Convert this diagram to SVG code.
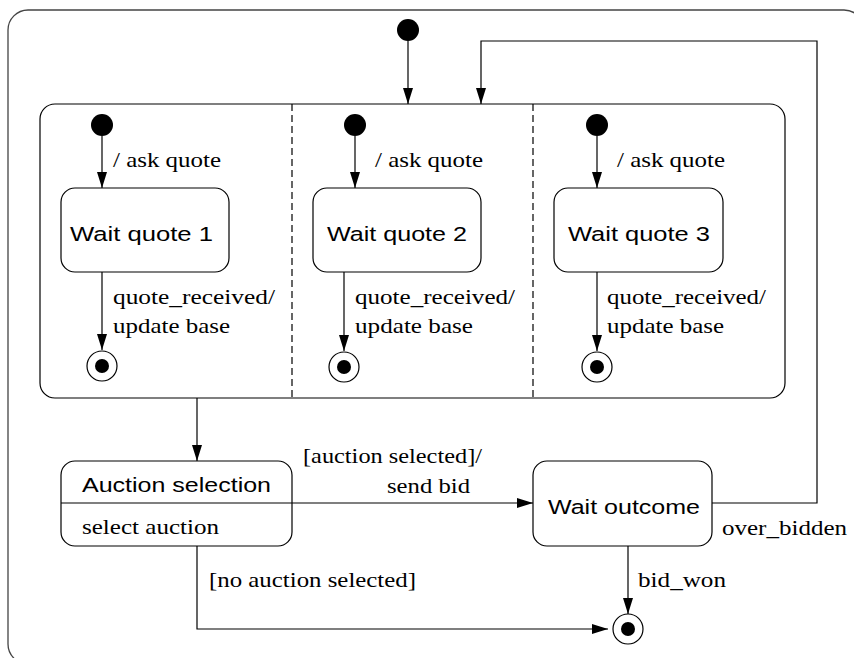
<svg xmlns="http://www.w3.org/2000/svg" width="854" height="658" viewBox="0 0 854 658">
  <style>
    .box { fill: #fff; stroke: #000; stroke-width: 1.2; }
    .frame { fill: none; stroke: #444; stroke-width: 1.3; }
    .comp { fill: none; stroke: #000; stroke-width: 1.2; }
    .dash { stroke: #000; stroke-width: 1.2; stroke-dasharray: 7 4; }
    .edge { fill: none; stroke: #000; stroke-width: 1.2; marker-end: url(#arrow); }
    .line { fill: none; stroke: #000; stroke-width: 1.2; }
    .init { fill: #000; }
    .fin { fill: #fff; stroke: #000; stroke-width: 1.2; }
    .sans { font-family: "Liberation Sans", Arial, sans-serif; font-size: 20.5px; fill: #000; }
    .tr { font-family: "Liberation Serif", "Times New Roman", "DejaVu Serif", serif; font-size: 21px; fill: #000; }
  </style>
  <defs>
    <marker id="arrow" markerUnits="userSpaceOnUse" markerWidth="17" markerHeight="11" refX="16" refY="5" orient="auto">
      <path d="M0,0 L16,5 L0,10 z" fill="#000"/>
    </marker>
  </defs>

  <rect class="frame" x="8" y="10" width="856" height="654" rx="20"/>

  <g id="composite">
    <rect class="comp" x="40" y="104" width="745" height="294" rx="15"/>
    <line class="dash" x1="292" y1="104" x2="292" y2="398"/>
    <line class="dash" x1="533" y1="104" x2="533" y2="398"/>
  </g>

  <g id="connectors">
    <path class="edge" d="M408,41 V104"/>
    <path class="edge" d="M712,503 H817 V41 H481 V104"/>
    <path class="edge" d="M102,136 V188"/>
    <path class="edge" d="M102,272 V350"/>
    <path class="edge" d="M355,136 V188"/>
    <path class="edge" d="M344,272 V351"/>
    <path class="edge" d="M597,136 V188"/>
    <path class="edge" d="M597,272 V351"/>
    <path class="edge" d="M197,398 V461"/>
    <path class="edge" d="M292,503 H533"/>
    <path class="edge" d="M197,546 V629 H608"/>
    <path class="edge" d="M628,546 V614"/>
  </g>

  <g id="init-top"><circle class="init" cx="408" cy="30" r="11"/></g>
  <g id="init-1"><circle class="init" cx="102" cy="125" r="11"/></g>
  <g id="init-2"><circle class="init" cx="355" cy="125" r="11"/></g>
  <g id="init-3"><circle class="init" cx="597" cy="125" r="11"/></g>

  <g id="wait-quote-1">
    <rect class="box" x="61" y="188" width="168" height="84" rx="14"/>
    <text class="sans" x="70" y="241" textLength="143" lengthAdjust="spacingAndGlyphs">Wait quote 1</text>
  </g>
  <g id="wait-quote-2">
    <rect class="box" x="313" y="188" width="168" height="84" rx="14"/>
    <text class="sans" x="327" y="241" textLength="140" lengthAdjust="spacingAndGlyphs">Wait quote 2</text>
  </g>
  <g id="wait-quote-3">
    <rect class="box" x="554" y="188" width="169" height="84" rx="14"/>
    <text class="sans" x="568" y="241" textLength="142" lengthAdjust="spacingAndGlyphs">Wait quote 3</text>
  </g>

  <g id="final-1">
    <circle class="fin" cx="102" cy="366" r="15"/>
    <circle class="init" cx="102" cy="366" r="7"/>
  </g>
  <g id="final-2">
    <circle class="fin" cx="344" cy="367" r="15"/>
    <circle class="init" cx="344" cy="367" r="7"/>
  </g>
  <g id="final-3">
    <circle class="fin" cx="597" cy="367" r="15"/>
    <circle class="init" cx="597" cy="367" r="7"/>
  </g>

  <g id="auction-selection">
    <rect class="box" x="61" y="461" width="231" height="85" rx="14"/>
    <line class="line" x1="61" y1="503" x2="292" y2="503"/>
    <text class="sans" x="82" y="492" textLength="189" lengthAdjust="spacingAndGlyphs">Auction selection</text>
    <text class="tr" font-family="Liberation Serif, serif" x="82" y="534" textLength="137" lengthAdjust="spacingAndGlyphs">select auction</text>
  </g>

  <g id="wait-outcome">
    <rect class="box" x="533" y="461" width="179" height="85" rx="14"/>
    <text class="sans" x="548" y="514" textLength="152" lengthAdjust="spacingAndGlyphs">Wait outcome</text>
  </g>

  <g id="final-main">
    <circle class="fin" cx="628" cy="629" r="15"/>
    <circle class="init" cx="628" cy="629" r="7"/>
  </g>

  <g id="labels" class="tr">
    <text class="tr" x="113" y="167" textLength="108" lengthAdjust="spacingAndGlyphs">/ ask quote</text>
    <text class="tr" x="375" y="167" textLength="108" lengthAdjust="spacingAndGlyphs">/ ask quote</text>
    <text class="tr" x="617" y="167" textLength="108" lengthAdjust="spacingAndGlyphs">/ ask quote</text>
    <text class="tr" x="113" y="304" textLength="162" lengthAdjust="spacingAndGlyphs">quote_received/</text>
    <text class="tr" x="113" y="333" textLength="117" lengthAdjust="spacingAndGlyphs">update base</text>
    <text class="tr" x="355" y="304" textLength="160" lengthAdjust="spacingAndGlyphs">quote_received/</text>
    <text class="tr" x="355" y="333" textLength="118" lengthAdjust="spacingAndGlyphs">update base</text>
    <text class="tr" x="607" y="304" textLength="159" lengthAdjust="spacingAndGlyphs">quote_received/</text>
    <text class="tr" x="607" y="333" textLength="117" lengthAdjust="spacingAndGlyphs">update base</text>
    <text class="tr" x="303" y="463" textLength="179" lengthAdjust="spacingAndGlyphs">[auction selected]/</text>
    <text class="tr" x="387" y="493" textLength="83" lengthAdjust="spacingAndGlyphs">send bid</text>
    <text class="tr" x="209" y="587" textLength="207" lengthAdjust="spacingAndGlyphs">[no auction selected]</text>
    <text class="tr" x="722" y="535" textLength="125" lengthAdjust="spacingAndGlyphs">over_bidden</text>
    <text class="tr" x="638" y="587" textLength="88" lengthAdjust="spacingAndGlyphs">bid_won</text>
  </g>
</svg>
